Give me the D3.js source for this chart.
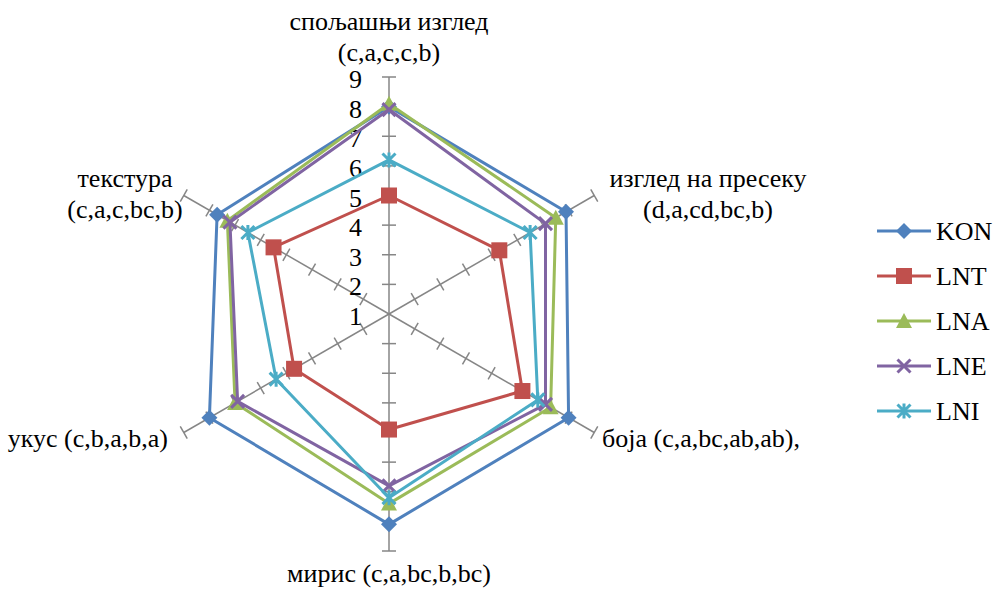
<!DOCTYPE html>
<html>
<head>
<meta charset="utf-8">
<script src="https://cdn.jsdelivr.net/npm/d3@7"></script>
<style>
  body { margin: 0; background: #fff; }
</style>
</head>
<body>
<div id="chart"></div>
<script>
// categories, clockwise from the top
var categories = [
    ["спољашњи изглед", "(c,a,c,c,b)"],
    ["изглед на пресеку", "(d,a,cd,bc,b)"],
    ["боја (c,a,bc,ab,ab),"],
    ["мирис (c,a,bc,b,bc)"],
    ["укус (c,b,a,b,a)"],
    ["текстура", "(c,a,c,bc,b)"]
];
var seriesNames = ["KON", "LNT", "LNA", "LNE", "LNI"];
var KON = [8.0, 7.9, 8.0, 8.1, 8.0, 7.7];
var LNT = [5.0, 5.3, 6.2, 4.9, 4.7, 5.5];
var LNA = [8.1, 7.5, 7.3, 7.4, 7.0, 7.3];
var LNE = [7.9, 7.1, 7.1, 6.8, 6.9, 7.2];
var LNI = [6.2, 6.5, 6.8, 7.2, 5.4, 6.5];
var tickValues = [1, 2, 3, 4, 5, 6, 7, 8, 9];

var colors = ["#4F81BD", "#C0504D", "#9BBB59", "#8064A2", "#4BACC6"];
var markers = ["diamond", "square", "triangle", "x", "star"];
var seriesValues = [KON, LNT, LNA, LNE, LNI];

var width = 994, height = 590;
var cx = 389, cy = 314, R = 237;
var serif = "'Liberation Serif'";
var fontSize = "26px";

var svg = d3.select("#chart").append("svg")
    .attr("width", width)
    .attr("height", height);

var r = d3.scaleLinear().domain([1, 9]).range([0, R]);
var angle = function (i) { return i * Math.PI / 3; };
function pt(i, v) {
    var a = angle(i);
    return [cx + r(v) * Math.sin(a), cy - r(v) * Math.cos(a)];
}

// axes with crossing tick marks
var axes = svg.append("g").attr("class", "axes");
categories.forEach(function (c, i) {
    var end = pt(i, 9);
    axes.append("line")
        .attr("x1", cx).attr("y1", cy)
        .attr("x2", end[0]).attr("y2", end[1])
        .attr("stroke", "#868686").attr("stroke-width", 1.5);
    var a = angle(i);
    var px = Math.cos(a) * 7, py = Math.sin(a) * 7;
    tickValues.slice(1).forEach(function (t) {
        var p = pt(i, t);
        axes.append("line")
            .attr("x1", p[0] - px).attr("y1", p[1] - py)
            .attr("x2", p[0] + px).attr("y2", p[1] + py)
            .attr("stroke", "#868686").attr("stroke-width", 1.5);
    });
});

// value labels on the top axis
svg.append("g").selectAll("text")
    .data(tickValues)
    .enter().append("text")
    .attr("x", cx - 27)
    .attr("y", function (d) { return cy - r(d) + 11; })
    .attr("text-anchor", "end")
    .style("font-family", serif)
    .style("font-size", fontSize)
    .text(function (d) { return d; });

// category labels (baseline positions)
var labelPos = [
    { x: cx, y: 30, anchor: "middle" },
    { x: 708, y: 187, anchor: "middle" },
    { x: 602, y: 447, anchor: "start" },
    { x: cx, y: 582, anchor: "middle" },
    { x: 168, y: 447, anchor: "end" },
    { x: 125, y: 187, anchor: "middle" }
];
categories.forEach(function (c, i) {
    var lp = labelPos[i];
    var t = svg.append("text")
        .attr("text-anchor", lp.anchor)
        .style("font-family", serif)
        .style("font-size", fontSize);
    c.forEach(function (line, k) {
        t.append("tspan")
            .attr("x", lp.x)
            .attr("y", lp.y + k * 31)
            .text(line);
    });
});

function drawMarker(g, type, color, x, y) {
    var s = 6.5;
    if (type === "diamond") {
        g.append("path")
            .attr("d", "M" + x + "," + (y - 8) + "L" + (x + 8) + "," + y + "L" + x + "," + (y + 8) + "L" + (x - 8) + "," + y + "Z")
            .attr("fill", color);
    } else if (type === "square") {
        g.append("rect")
            .attr("x", x - 8).attr("y", y - 8)
            .attr("width", 16).attr("height", 16)
            .attr("fill", color);
    } else if (type === "triangle") {
        g.append("path")
            .attr("d", "M" + x + "," + (y - 8) + "L" + (x + 8) + "," + (y + 7) + "L" + (x - 8) + "," + (y + 7) + "Z")
            .attr("fill", color);
    } else {
        var p = "M" + (x - s) + "," + (y - s) + "L" + (x + s) + "," + (y + s) +
            "M" + (x + s) + "," + (y - s) + "L" + (x - s) + "," + (y + s);
        if (type === "star") p += "M" + x + "," + (y - s - 1) + "L" + x + "," + (y + s + 1);
        g.append("path")
            .attr("d", p)
            .attr("stroke", color).attr("stroke-width", 3)
            .attr("fill", "none");
    }
}

var line = d3.line().curve(d3.curveLinearClosed);

seriesValues.forEach(function (vals, s) {
    var g = svg.append("g").attr("class", "series");
    var pts = vals.map(function (v, i) { return pt(i, v); });
    g.append("path")
        .attr("d", line(pts))
        .attr("fill", "none")
        .attr("stroke", colors[s])
        .attr("stroke-width", 3)
        .attr("stroke-linejoin", "round");
    pts.forEach(function (p) { drawMarker(g, markers[s], colors[s], p[0], p[1]); });
});

// legend
var legend = svg.append("g").attr("class", "legend");
seriesNames.forEach(function (name, s) {
    var y = 231 + s * 45;
    legend.append("line")
        .attr("x1", 877).attr("x2", 931)
        .attr("y1", y).attr("y2", y)
        .attr("stroke", colors[s]).attr("stroke-width", 3);
    drawMarker(legend, markers[s], colors[s], 904, y);
    legend.append("text")
        .attr("x", 936).attr("y", y + 9)
        .style("font-family", serif)
        .style("font-size", fontSize)
        .text(name);
});
</script>
</body>
</html>
